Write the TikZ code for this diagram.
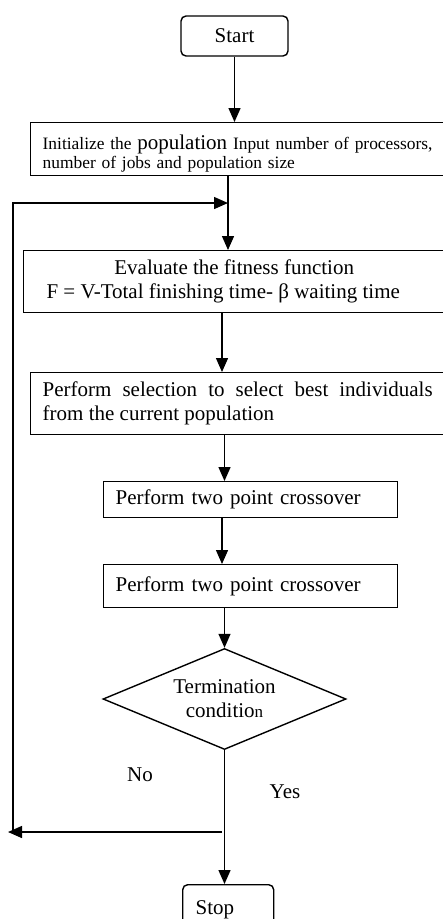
\documentclass[tikz,border=0pt]{standalone}
\usepackage{fontspec}
\setmainfont{Liberation Serif}
\usetikzlibrary{shapes.geometric,arrows.meta}

\tikzset{
  box/.style={draw, line width=1.4pt, rectangle, inner sep=0pt, font=\fontsize{21}{24}\selectfont},
  rbox/.style={box, rounded corners=5pt},
  cond/.style={draw, line width=1.4pt, diamond, shape aspect=2.4, minimum width=243pt, minimum height=101pt, inner sep=0pt, align=center, font=\fontsize{21}{24}\selectfont},
  flow/.style={line width=1.4pt, -{Triangle[length=14pt,width=12pt]}},
  lbl/.style={font=\fontsize{21}{24}\selectfont}
}

\begin{document}
\begin{tikzpicture}[x=1pt,y=-1pt]
\useasboundingbox (0,0) rectangle (443,919);

\node[rbox, minimum width=107pt, minimum height=40pt] (start) at (234.5,36) {Start};
\node[box, anchor=north west, minimum width=414pt, minimum height=53pt, text width=392pt, inner xsep=12pt, align=left, font=\fontsize{17.4}{19}\selectfont] (init) at (30,122)
  {\rule{0pt}{24pt}Initialize the {\fontsize{21}{19}\selectfont population} Input number of processors,\\number of jobs and population size};
\node[box, anchor=north west, minimum width=421pt, minimum height=62pt, align=center] (eval) at (23,250)
  {Evaluate the fitness function\\F = V-Total finishing time- β waiting time\hspace*{22pt}};
\node[box, anchor=north west, minimum width=414pt, minimum height=62pt, text width=390pt, inner xsep=12pt, align=justify] (sel) at (30,372)
  {Perform selection to select best individuals from the current population};
\node[box, anchor=north west, minimum width=294pt, minimum height=36pt, text width=270pt, inner xsep=12pt, align=left] (cross1) at (103,481) {Perform two point crossover};
\node[box, anchor=north west, minimum width=294pt, minimum height=43pt, text width=270pt, inner xsep=12pt, align=left] (cross2) at (103,564) {Perform two point crossover};
\node[cond] (cond) at (224.5,699) {Termination\\conditio{\fontsize{17}{18}\selectfont n}};
\node[rbox, anchor=north west, minimum width=91pt, minimum height=50pt, text width=65pt, inner xsep=13pt, align=left] (stop) at (182,884) {Stop};

\node[lbl] (no) at (140,775) {No};
\node[lbl] (yes) at (285,792) {Yes};

% loop back points
\coordinate (join) at (228,203);
\coordinate (nopt) at (222,832);
\coordinate (corner) at (13,832);
\coordinate (loopend) at (8,832);

\draw[flow] (start.south) -- (start.south |- init.north);
\draw[flow] (init.south -| join) -- (eval.north -| join);
\draw[flow] (eval.south -| nopt) -- (nopt |- sel.north);
\draw[flow] (sel.south -| cond) -- (cond |- cross1.north);
\draw[flow] (cross1.south -| nopt) -- (nopt |- cross2.north);
\draw[flow] (cross2.south -| cond) -- (cond.north);
\draw[flow] (cond.south) -- (cond.south |- stop.north);
\draw[flow] (nopt) -- (loopend);
\draw[flow] (corner) |- (join);
\end{tikzpicture}
\end{document}
